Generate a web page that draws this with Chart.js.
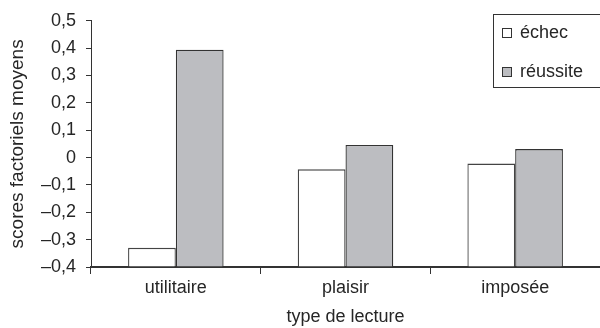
<!DOCTYPE html>
<html>
<head>
<meta charset="utf-8">
<script src="https://cdn.jsdelivr.net/npm/chart.js@4/dist/chart.umd.min.js"></script>
<style>
  html, body { margin: 0; padding: 0; background: #fff; }
  #wrap { width: 600px; height: 328px; position: relative; }
</style>
</head>
<body>
<div id="wrap"><canvas id="c"></canvas></div>
<script>
// Mean factor scores by type of reading, for failing vs. succeeding pupils
const categories = ['utilitaire', 'plaisir', 'imposée'];
const echec = [-0.33, -0.043, -0.022];
const reussite = [0.394, 0.046, 0.031];
const seriesNames = ['échec', 'réussite'];
const yMin = -0.4, yMax = 0.5, yStep = 0.1;

const FONT = '"Liberation Sans", Arial, Helvetica, sans-serif';
const INK = '#262626';

function frNumber(v) {
  const r = Math.round(v * 10) / 10;
  if (r === 0) return '0';
  return (r < 0 ? '\u2013' : '') + Math.abs(r).toFixed(1).replace('.', ',');
}

// Boxed legend in the top-right corner
const boxLegend = {
  id: 'boxLegend',
  afterDraw(chart) {
    const ctx = chart.ctx;
    const x0 = 493.5, y0 = 14.5, w = 120, h = 73;
    ctx.save();
    ctx.fillStyle = '#fff';
    ctx.fillRect(x0, y0, w, h);
    ctx.strokeStyle = '#333';
    ctx.lineWidth = 1;
    ctx.strokeRect(x0, y0, w, h);
    ctx.font = '18px ' + FONT;
    ctx.textBaseline = 'middle';
    const rowsY = [33, 72];
    chart.data.datasets.forEach((ds, i) => {
      const cy = rowsY[i];
      ctx.fillStyle = ds.backgroundColor;
      ctx.fillRect(502, cy - 5, 10, 10);
      ctx.strokeStyle = '#333';
      ctx.strokeRect(502.5, cy - 4.5, 9, 9);
      ctx.fillStyle = INK;
      ctx.textAlign = 'left';
      ctx.fillText(ds.label, 520, cy);
    });
    ctx.restore();
  }
};

new Chart(document.getElementById('c'), {
  type: 'bar',
  data: {
    labels: categories,
    datasets: [
      { label: seriesNames[0], data: echec, base: yMin,
        backgroundColor: '#ffffff', borderColor: '#444', borderWidth: 1.3 },
      { label: seriesNames[1], data: reussite, base: yMin,
        backgroundColor: '#bcbdc1', borderColor: '#333', borderWidth: 1.3 }
    ]
  },
  options: {
    responsive: true,
    maintainAspectRatio: false,
    animation: false,
    layout: { padding: { top: 20, right: 0, left: 0, bottom: 0 } },
    datasets: { bar: { categoryPercentage: 0.563, barPercentage: 1.0 } },
    plugins: {
      legend: { display: false },
      tooltip: { enabled: false }
    },
    scales: {
      x: {
        grid: { offset: true, drawOnChartArea: false, drawTicks: true, tickLength: 7, color: '#333', lineWidth: 1 },
        border: { display: true, color: '#333', width: 2 },
        ticks: { color: INK, font: { family: FONT, size: 18 }, padding: 3 },
        title: { display: true, text: 'type de lecture', color: INK,
                 font: { family: FONT, size: 18 }, padding: { top: 0, bottom: 0 } },
        afterFit(scale) { scale.height = 61; }
      },
      y: {
        min: yMin, max: yMax,
        grid: { drawOnChartArea: false, drawTicks: true, tickLength: 5, color: '#333', lineWidth: 1 },
        border: { display: true, color: '#333', width: 1 },
        ticks: { stepSize: yStep, color: INK, font: { family: FONT, size: 18 }, padding: 10,
                 callback: (v) => frNumber(v) },
        title: { display: true, text: 'scores factoriels moyens', color: INK,
                 font: { family: FONT, size: 19 }, padding: { top: 6, bottom: 0 } },
        afterFit(scale) { scale.width = 91; }
      }
    }
  },
  plugins: [boxLegend]
});
</script>
</body>
</html>
